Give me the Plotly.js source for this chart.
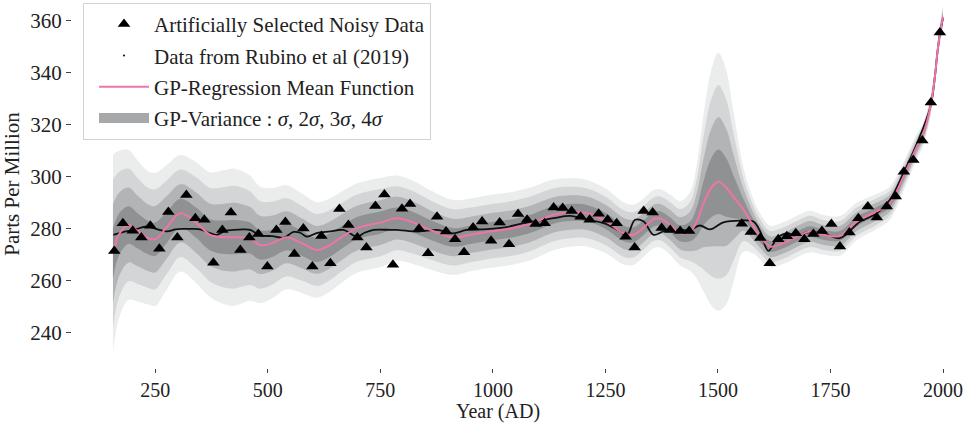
<!DOCTYPE html>
<html><head><meta charset="utf-8">
<script src="https://cdn.plot.ly/plotly-3.0.1.min.js"></script>
<style>html,body{margin:0;padding:0;background:#fff}#chart{width:968px;height:424px}</style>
</head><body><div id="chart"></div>
<script>
// GP regression grid (year, mean ppm, sigma ppm)
const gridYears = [156,170,191,210,235,250,275,306,340,372,400,424,440,461,483,510,542,575,609,635,661,698,750,787,824,861,912,950,994,1046,1083,1135,1172,1209,1253,1290,1312,1335,1357,1372,1394,1416,1438,1453,1468,1485,1501,1518,1534,1557,1579,1594,1616,1645,1683,1705,1734,1771,1808,1853,1882,1912,1942,1955,1972,1982,1987,1993,2000];
const meanPpm = [270.5,278.0,281.5,279.3,276.5,276.0,280.5,286.0,282.5,277.7,276.8,276.8,276.8,276.4,273.8,274.5,276.8,274.5,271.9,273.5,276.4,280.3,282.4,284.1,282.4,279.6,276.7,277.7,279.0,280.3,281.9,285.4,286.3,286.0,282.8,278.3,277.7,280.5,283.7,284.0,281.5,278.3,279.0,282.8,289.9,295.8,298.1,296.0,292.4,287.3,280.9,277.0,273.2,274.5,277.7,279.0,277.7,277.3,282.8,286.7,289.9,300.1,311.7,316.0,327.0,338.5,347.0,355.0,361.5];
const sigmaPpm = [9.5,8.0,7.2,6.8,6.4,6.4,6.0,5.6,5.8,6.0,6.4,6.6,6.4,6.0,5.6,5.3,5.0,4.8,4.6,4.5,4.4,4.3,4.3,4.1,4.0,3.8,3.6,3.5,3.5,3.5,3.5,3.4,3.3,3.2,3.1,3.0,2.9,2.8,2.8,2.8,2.9,3.1,3.8,5.5,8.5,11.3,12.4,11.3,8.3,4.0,2.6,2.2,2.0,2.0,2.0,2.0,1.9,1.9,1.8,1.7,1.6,1.4,1.2,1.1,1.0,1.0,1.0,1.0,1.2];

// Artificially selected noisy data
const noisyYears = [159,178,200,219,239,259,279,299,319,339,359,379,399,418,439,459,479,499,519,539,559,579,599,619,639,659,679,699,719,739,759,778,798,816,836,856,876,896,916,936,956,976,996,1015,1036,1056,1076,1095,1115,1135,1155,1175,1195,1215,1235,1255,1275,1295,1315,1335,1355,1375,1394,1416,1436,1553,1573,1594,1615,1634,1653,1673,1692,1712,1731,1752,1771,1792,1812,1833,1853,1875,1895,1913,1934,1954,1973,1993];
const noisyPpm = [271.5,282.2,279.3,276.7,281.2,272.4,286.5,276.7,293.0,284.1,283.5,267.0,279.6,286.3,271.9,276.7,278.0,265.5,279.6,282.6,270.3,280.1,265.5,277.3,266.8,287.6,281.5,276.7,272.8,288.8,293.2,266.2,287.7,289.6,280.0,270.6,284.7,279.0,276.0,271.0,280.5,282.8,275.4,282.4,274.1,285.7,283.5,281.9,282.2,288.2,288.0,286.9,284.7,283.5,285.8,283.5,282.2,277.0,272.8,286.9,286.3,280.3,279.6,279.2,279.2,282.0,278.8,276.5,266.8,276.0,277.2,278.3,276.0,278.0,279.2,281.9,273.2,278.6,284.1,288.6,284.4,288.6,292.4,302.0,306.5,314.0,328.6,355.5];

// Rubino et al (2019) record
const rubinoYears = [157,180,202,232,255,276,295,313,333,350,370,387,405,424,445,461,483,510,535,557,572,587,610,639,668,698,715,735,772,787,810,838,876,912,942,987,1031,1068,1105,1135,1172,1209,1246,1283,1297,1316,1335,1357,1379,1409,1438,1460,1482,1512,1549,1579,1594,1612,1631,1653,1675,1697,1734,1771,1816,1853,1882,1912,1942,1972,1982,1987,1993,2000];
const rubinoPpm = [277.7,278.8,279.6,280.9,279.8,279.0,279.8,280.0,280.0,279.8,278.5,277.7,279.2,279.6,279.8,279.6,277.5,277.2,276.6,278.8,278.5,277.0,278.5,279.0,279.6,277.0,278.5,279.6,279.6,279.6,279.2,279.0,279.6,278.3,279.6,279.9,280.7,282.2,283.2,284.1,285.0,283.5,282.2,279.0,277.3,283.5,282.8,277.7,279.0,279.6,279.6,281.3,279.8,282.5,283.2,282.8,279.0,271.5,276.4,278.3,277.3,278.6,278.3,276.4,282.8,286.0,291.2,301.4,312.8,327.0,338.5,347.0,355.0,361.0];

const xTickVals = [250,500,750,1000,1250,1500,1750,2000];
const xTickText = ['250','500','750','1000','1250','1500','1750','2000'];
const yTickVals = [240,260,280,300,320,340,360];
const yTickText = ['240','260','280','300','320','340','360'];

const bandColors = ['rgb(235,236,236)','rgb(212,213,214)','rgb(178,180,181)','rgb(143,145,147)'];
const FONT = 'Liberation Serif, Times New Roman, serif';

const traces = [];
[4,3,2,1].forEach((k,i) => {
  traces.push({x: gridYears, y: meanPpm.map((m,j) => m - k*sigmaPpm[j]), mode:'lines',
    line:{width:0, shape:'spline'}, showlegend:false, hoverinfo:'skip'});
  traces.push({x: gridYears, y: meanPpm.map((m,j) => m + k*sigmaPpm[j]), mode:'lines',
    line:{width:0, shape:'spline'}, fill:'tonexty', fillcolor: bandColors[i], showlegend:false, hoverinfo:'skip'});
});
traces.push({x: rubinoYears, y: rubinoPpm, mode:'lines', line:{color:'#111', width:1.8, shape:'spline'}, showlegend:false});
traces.push({x: gridYears, y: meanPpm, mode:'lines', line:{color:'#f074aa', width:2, shape:'spline'},
  name:'GP-Regression Mean Function', legendrank:3, legendgroup:'c'});
traces.push({x: noisyYears, y: noisyPpm, mode:'markers', marker:{symbol:'triangle-up', size:11, color:'#000'},
  name:'Artificially Selected Noisy Data', legendrank:1, legendgroup:'a'});
// legend-only entries
traces.push({x:[null], y:[null], mode:'markers', marker:{size:2, color:'#000'},
  name:'Data from Rubino et al (2019)', legendrank:2, legendgroup:'b'});
traces.push({x:[null], y:[null], mode:'lines', line:{width:15, color:'rgb(166,168,170)'},
  name:'GP-Variance : <i>σ</i>, 2<i>σ</i>, 3<i>σ</i>, 4<i>σ</i>', legendrank:4, legendgroup:'d'});

const layout = {
  width:968, height:424,
  margin:{l:72, r:0, t:0, b:56},
  paper_bgcolor:'#fff', plot_bgcolor:'#fff',
  font:{family:FONT, size:21, color:'#222'},
  xaxis:{range:[65,2055.5], tickvals:xTickVals, ticktext:xTickText, ticks:'outside', ticklen:4, tickcolor:'#444',
    showgrid:false, zeroline:false, showline:false, tickfont:{size:20}},
  yaxis:{range:[226.5,368], tickvals:yTickVals, ticktext:yTickText, ticks:'outside', ticklen:5, tickcolor:'#444',
    showgrid:false, zeroline:false, showline:false, tickfont:{size:21},
    title:{text:'Parts Per Million', font:{size:21}, standoff:6}},
  annotations:[{text:'Year (AD)', xref:'paper', yref:'paper', x:0.475, y:-0.1522, xanchor:'center', yanchor:'bottom',
    showarrow:false, borderpad:0, font:{size:20, family:FONT, color:'#222'}}],
  legend:{x:0.0123, y:0.992, xanchor:'left', yanchor:'top', bgcolor:'rgba(255,255,255,0.85)',
    bordercolor:'rgb(210,210,210)', borderwidth:1, font:{size:21, family:FONT, color:'#222'},
    itemwidth:50, indentation:10, traceorder:'grouped', tracegroupgap:1},
  showlegend:true
};
Plotly.newPlot('chart', traces, layout, {staticPlot:true});
</script></body></html>
